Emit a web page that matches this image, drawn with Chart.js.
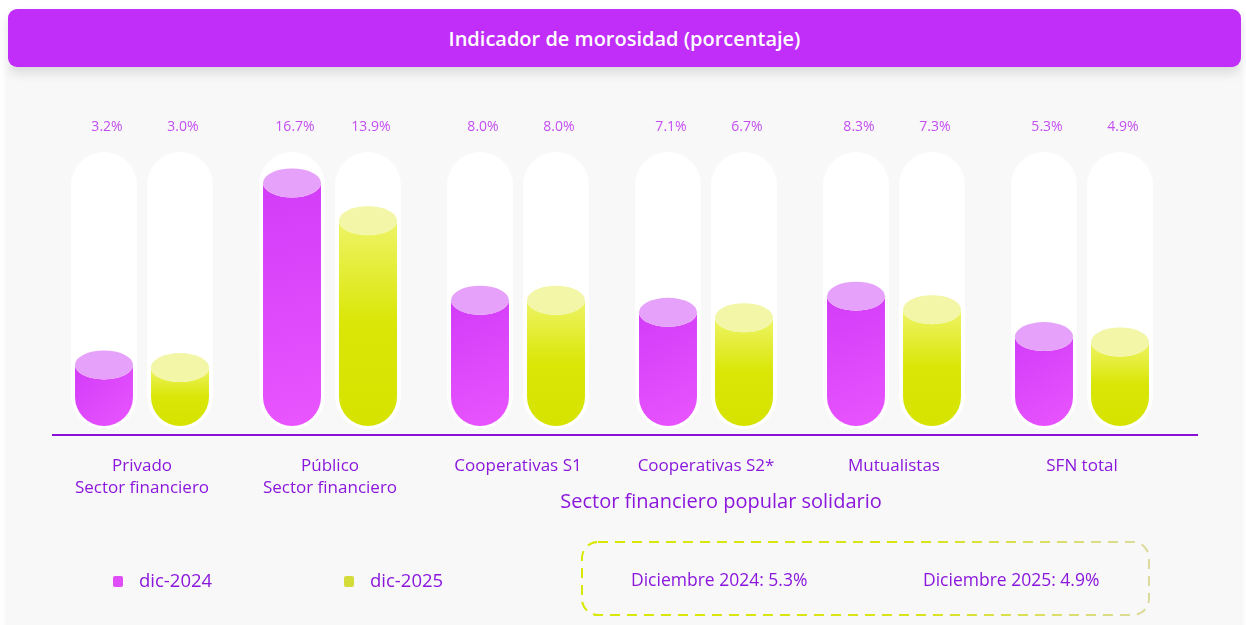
<!DOCTYPE html>
<html>
<head>
<meta charset="utf-8">
<script src="https://cdn.jsdelivr.net/npm/chart.js@4.4.1/dist/chart.umd.min.js"></script>
<style>
  body { margin: 0; width: 1246px; height: 625px; background: #fff; font-family: "Open Sans", sans-serif; position: relative; overflow: hidden; }
  .card { position: absolute; left: 8px; top: 68px; width: 1233px; height: 570px; background: #f8f8f8; box-shadow: 0 0 8px rgba(0,0,0,0.07); }
  .titlebar { position: absolute; left: 8px; top: 9px; width: 1233px; height: 58px; border-radius: 9px; background: #c12df9;
    box-shadow: 0 6px 12px rgba(0,0,0,0.12); color: #fff; font-weight: 600; font-size: 20px; text-align: center; line-height: 60px; }
  #chartWrap { position: absolute; left: 0; top: 0; width: 1246px; height: 625px; }
  .group-label { position: absolute; left: 521px; width: 400px; top: 487px; text-align: center; font-size: 20px; line-height: 28px; color: #8b17dc; }
  .legend { position: absolute; top: 568px; font-size: 18.5px; color: #8b17dc; line-height: 24px; }
  .legend span.sw { display: inline-block; width: 10px; height: 11px; border-radius: 2px; margin-right: 16px; vertical-align: 0px; }
  .note { position: absolute; top: 567px; font-size: 17.5px; color: #8b17dc; line-height: 24px; }
  svg.box { position: absolute; left: 0; top: 0; }
</style>
</head>
<body>
<div class="card"></div>
<div class="titlebar">Indicador de morosidad (porcentaje)</div>
<div id="chartWrap"><canvas id="chart" width="1246" height="625"></canvas></div>
<div class="group-label">Sector financiero popular solidario</div>
<div class="legend" style="left:113px"><span class="sw" style="background:#e04cf8"></span>dic-2024</div>
<div class="legend" style="left:344px"><span class="sw" style="background:#d4dc3a"></span>dic-2025</div>
<svg class="box" width="1246" height="625">
  <defs>
    <linearGradient id="dashGrad" x1="0" y1="0" x2="1" y2="0">
      <stop offset="0" stop-color="#d8e800"/>
      <stop offset="0.6" stop-color="#d9e31a"/>
      <stop offset="1" stop-color="#dcdb9e"/>
    </linearGradient>
  </defs>
  <rect x="582" y="542" width="567" height="73" rx="16" fill="none" stroke="url(#dashGrad)" stroke-width="2" stroke-dasharray="10 7"/>
</svg>
<div class="note" style="left:631px">Diciembre 2024: 5.3%</div>
<div class="note" style="left:923px">Diciembre 2025: 4.9%</div>

<script>
const categories = [['Privado', 'Sector financiero'], ['Público', 'Sector financiero'], 'Cooperativas S1', 'Cooperativas S2*', 'Mutualistas', 'SFN total'];
const dic2024 = [3.2, 16.7, 8.0, 7.1, 8.3, 5.3];
const dic2025 = [3.0, 13.9, 8.0, 6.7, 7.3, 4.9];

// colores de cada serie
const styles = [
  { body: ['#d23cf8', '#e955fe'], top: '#e6a2fb', diagonal: true },
  { body: ['#eef467', '#dae606', '#d6e300'], top: '#f3f6a6', diagonal: false }
];

// dibuja los tubos blancos y los cilindros a partir de los elementos de barra
const tubesPlugin = {
  id: 'tubes',
  beforeDatasetsDraw(chart) {
    const ctx = chart.ctx;
    const top = chart.chartArea.top;
    ctx.save();
    ctx.fillStyle = '#ffffff';
    chart.data.datasets.forEach((ds, i) => {
      chart.getDatasetMeta(i).data.forEach(bar => {
        const r = bar.width / 2;
        const bottom = bar.base + 3;
        ctx.beginPath();
        ctx.arc(bar.x, top + r, r, Math.PI, 0);
        ctx.lineTo(bar.x + r, bottom - r);
        ctx.arc(bar.x, bottom - r, r, 0, Math.PI);
        ctx.closePath();
        ctx.fill();
      });
    });
    ctx.restore();
  },
  afterDatasetsDraw(chart) {
    const ctx = chart.ctx;
    ctx.save();
    chart.data.datasets.forEach((ds, i) => {
      const st = styles[i];
      chart.getDatasetMeta(i).data.forEach((bar, j) => {
        const rx = bar.width / 2 - 4;
        const ry = 14.5;
        const x = bar.x, y = bar.y, base = bar.base;
        let g;
        if (st.diagonal) {
          g = ctx.createLinearGradient(x - rx, y, x + rx, base);
          g.addColorStop(0, st.body[0]);
          g.addColorStop(1, st.body[1]);
        } else {
          g = ctx.createLinearGradient(0, y, 0, base);
          g.addColorStop(0, st.body[0]);
          g.addColorStop(0.5, st.body[1]);
          g.addColorStop(1, st.body[2]);
        }
        ctx.fillStyle = g;
        ctx.beginPath();
        ctx.moveTo(x - rx, y);
        ctx.lineTo(x - rx, base - rx);
        ctx.arc(x, base - rx, rx, Math.PI, 0, true);
        ctx.lineTo(x + rx, y);
        ctx.ellipse(x, y, rx, ry, 0, 0, Math.PI, false);
        ctx.closePath();
        ctx.fill();

        ctx.fillStyle = st.top;
        ctx.beginPath();
        ctx.ellipse(x, y, rx, ry, 0, 0, Math.PI * 2);
        ctx.fill();

        // etiqueta del valor
        ctx.fillStyle = '#c44df2';
        ctx.font = '14px "Open Sans", sans-serif';
        ctx.textAlign = 'center';
        ctx.textBaseline = 'middle';
        ctx.fillText(ds.data[j].toFixed(1) + '%', x + 3, chart.chartArea.top - 25);
      });
    });

    // línea del eje, un poco más ancha que el área del gráfico
    const yLine = chart.chartArea.bottom;
    ctx.strokeStyle = '#8a10d8';
    ctx.lineWidth = 2;
    ctx.beginPath();
    ctx.moveTo(52, yLine);
    ctx.lineTo(1198, yLine);
    ctx.stroke();
    ctx.restore();
  }
};

new Chart(document.getElementById('chart'), {
  type: 'bar',
  data: {
    labels: categories,
    datasets: [
      { label: 'dic-2024', data: dic2024, base: -1.33, backgroundColor: 'transparent' },
      { label: 'dic-2025', data: dic2025, base: -1.33, backgroundColor: 'transparent' }
    ]
  },
  options: {
    responsive: false,
    animation: false,
    devicePixelRatio: 1,
    categoryPercentage: 0.8085,
    barPercentage: 0.868,
    layout: { padding: { left: 48, right: 70, top: 152, bottom: 0 } },
    plugins: { legend: { display: false }, tooltip: { enabled: false } },
    scales: {
      x: {
        grid: { display: false, drawTicks: false },
        border: { display: false },
        ticks: { color: '#8b17dc', font: { family: 'Open Sans', size: 17, lineHeight: 1.3 }, padding: 20, maxRotation: 0, autoSkip: false },
        afterFit: (scale) => { scale.height = 190; }
      },
      y: { display: false, min: -2, max: 19 }
    }
  },
  plugins: [tubesPlugin]
});
</script>
</body>
</html>
